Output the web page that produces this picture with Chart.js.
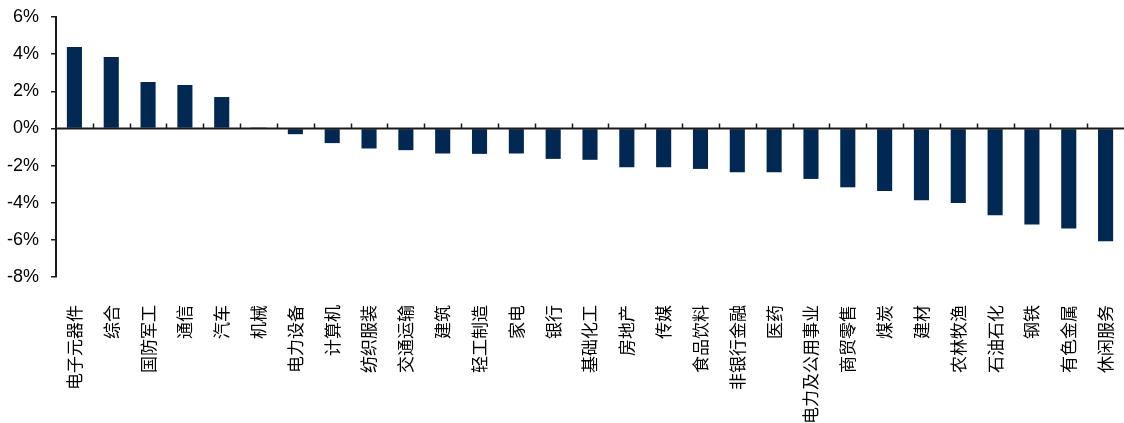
<!DOCTYPE html>
<html>
<head>
<meta charset="utf-8">
<script src="https://cdn.jsdelivr.net/npm/chart.js@4.4.1/dist/chart.umd.min.js"></script>
<style>
  html, body { margin: 0; padding: 0; background: #fff; overflow: hidden; }
  #wrap { width: 1124px; height: 423px; position: relative; }
</style>
</head>
<body>
<div id="wrap"><canvas id="chart"></canvas></div>
<script>
// industry names (x categories)
var categories = [
  "电子元器件", "综合", "国防军工", "通信", "汽车", "机械", "电力设备", "计算机",
  "纺织服装", "交通运输", "建筑", "轻工制造", "家电", "银行", "基础化工", "房地产",
  "传媒", "食品饮料", "非银行金融", "医药", "电力及公用事业", "商贸零售", "煤炭",
  "建材", "农林牧渔", "石油石化", "钢铁", "有色金属", "休闲服务"
];

// weekly change, %
var changes = [
  4.39, 3.84, 2.50, 2.34, 1.69, 0.02, -0.31, -0.79,
  -1.08, -1.17, -1.35, -1.37, -1.35, -1.64, -1.69, -2.09,
  -2.09, -2.18, -2.36, -2.36, -2.72, -3.17, -3.37,
  -3.87, -4.02, -4.67, -5.17, -5.39, -6.07
];

// y axis range (%)
var yMin = -8;
var yMax = 6;
var yStep = 2;

var barColor = "#012852";
var axisColor = "#1a1a1a";

// zero line with small upward ticks between categories
var zeroAxis = {
  id: "zeroAxis",
  afterDatasetsDraw: function (chart) {
    var ctx = chart.ctx;
    var x = chart.scales.x;
    var y0 = chart.scales.y.getPixelForValue(0);
    var area = chart.chartArea;
    ctx.save();
    ctx.strokeStyle = axisColor;
    ctx.lineWidth = 2;
    ctx.beginPath();
    ctx.moveTo(area.left, y0);
    ctx.lineTo(area.right, y0);
    ctx.stroke();
    ctx.lineWidth = 1.5;
    var half = (x.getPixelForValue(1) - x.getPixelForValue(0)) / 2;
    ctx.beginPath();
    for (var i = 0; i < categories.length - 1; i++) {
      var px = Math.round(x.getPixelForValue(i) + half) + 0.5;
      ctx.moveTo(px, y0);
      ctx.lineTo(px, y0 - 5);
    }
    ctx.stroke();
    ctx.restore();
  }
};

var ctx = document.getElementById("chart").getContext("2d");
new Chart(ctx, {
  type: "bar",
  data: {
    labels: categories,
    datasets: [{
      data: changes,
      backgroundColor: barColor,
      borderWidth: 0,
      categoryPercentage: 1,
      barPercentage: 0.41
    }]
  },
  options: {
    responsive: true,
    maintainAspectRatio: false,
    animation: false,
    layout: { padding: { top: 17, right: -3, bottom: 0, left: 0 } },
    plugins: { legend: { display: false }, tooltip: { enabled: false } },
    scales: {
      x: {
        position: "bottom",
        grid: { display: false },
        border: { display: false },
        afterFit: function (s) {
          s.height = 146;
          s.paddingLeft = 0;
          s.paddingRight = 0;
        },
        ticks: {
          autoSkip: false,
          minRotation: 90,
          maxRotation: 90,
          padding: 20,
          color: "#000",
          font: { family: "'Noto Sans CJK SC'", size: 17 }
        }
      },
      y: {
        min: yMin,
        max: yMax,
        afterFit: function (s) {
          s.width = 56;
          s.paddingTop = 0;
          s.paddingBottom = 0;
        },
        border: { display: true, color: axisColor, width: 2 },
        grid: {
          drawOnChartArea: false,
          drawTicks: true,
          tickLength: 5,
          color: axisColor,
          lineWidth: 1.5
        },
        ticks: {
          stepSize: yStep,
          padding: 12,
          color: "#000",
          font: { family: "'Liberation Sans', Arial, sans-serif", size: 18 },
          callback: function (v) { return v + "%"; }
        }
      }
    }
  },
  plugins: [zeroAxis]
});
</script>
</body>
</html>
